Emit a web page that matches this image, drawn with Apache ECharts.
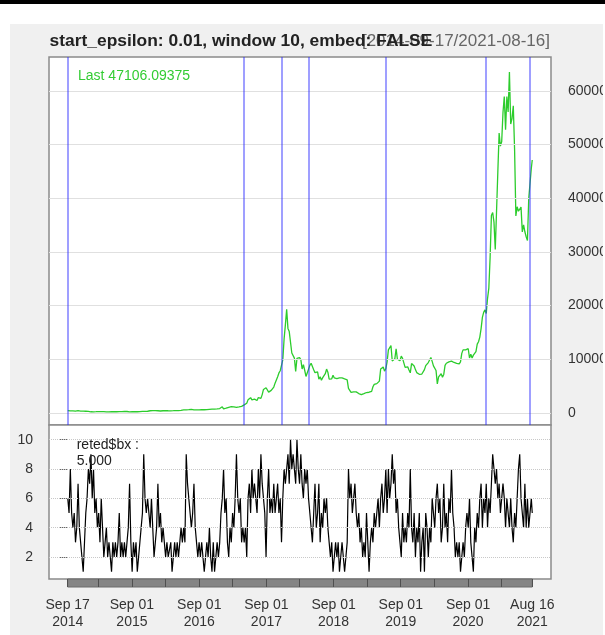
<!DOCTYPE html>
<html><head><meta charset="utf-8">
<script src="https://cdn.jsdelivr.net/npm/echarts@6/dist/echarts.min.js"></script>
<style>
html,body{margin:0;padding:0;background:#fff;width:605px;height:635px;overflow:hidden;}
#topbar{position:absolute;left:0;top:0;width:605px;height:4px;background:#000;}
#chart{position:absolute;left:10px;top:24px;width:593px;height:611px;background:#f0f0f0;}
</style></head><body>
<div id="topbar"></div><div id="chart"></div>
<script>
// ---- data (day index counted from 2014-09-17) ----
const titleText = 'start_epsilon: 0.01, window 10, embed: FALSE';
const rangeText = '[2014-09-17/2021-08-16]';
const xLabelDays = [0, 349, 715, 1080, 1445, 1810, 2176, 2525];
const xLabelText = ['Sep 17\n2014', 'Sep 01\n2015', 'Sep 01\n2016', 'Sep 01\n2017', 'Sep 01\n2018', 'Sep 01\n2019', 'Sep 01\n2020', 'Aug 16\n2021'];
const xTickDays = [0, 165, 349, 531, 715, 896, 1080, 1261, 1445, 1626, 1810, 1992, 2176, 2357, 2525];
const priceTicks = [0, 10000, 20000, 30000, 40000, 50000, 60000];
const bxTicks = [2, 4, 6, 8, 10];
const vlineDays = [0, 958, 1165, 1311, 1730, 2270, 2512];
const weekStep = 7;
const lastDay = 2525;
const lastPrice = 47106.09375;
const lastBx = 5;
const priceWeekly = [
 457,423,383,352,394,383,335,339,423,380,
 367,375,346,319,322,320,294,178,228,233,
 227,219,244,237,272,296,256,247,247,245,
 220,235,226,229,236,234,237,225,229,249,
 241,258,270,285,277,289,281,267,226,225,
 228,238,229,231,236,243,253,267,304,403,
 305,323,328,361,417,453,442,426,431,430,
 421,395,369,381,422,424,422,412,415,418,
 413,421,425,442,447,446,455,453,473,537,
 581,691,597,640,611,661,665,654,566,592,
 574,580,573,614,608,596,605,612,637,631,
 678,732,711,746,740,742,768,779,830,975,
 1155,778,871,895,986,1054,1009,1172,1222,1150,
 1244,1041,1040,1135,1211,1231,1317,1508,1756,1803,
 2447,2303,2859,2448,2674,2585,2619,2330,2872,2560,
 2725,3427,4385,4319,4703,4598,3882,3906,4208,4225,
 4829,5560,5904,6737,7459,7871,8232,9879,13750,16408,
 19300,15752,15156,14973,11180,11296,10221,7754,10167,10397,
 10326,9951,8195,8991,7960,6813,6955,8163,8864,9243,
 9325,8071,7505,7495,7654,6309,6734,6107,6593,6330,
 7315,8170,7606,6306,6275,6366,7037,6531,6316,6399,
 6490,6548,6564,6522,6491,6339,6467,6177,4582,4274,
 3830,3487,3950,3790,3931,4003,3617,3575,3437,3399,
 3617,3983,3813,3862,3866,4049,4025,4880,5319,5237,
 5465,5351,5940,8195,7880,8575,7797,8231,9525,11750,
 11961,12567,9682,9840,10087,11960,10016,10131,9717,10578,
 10159,10168,8490,8341,8596,8000,7480,9204,9342,8757,
 8080,7523,7192,7202,7125,7255,7200,8079,8813,8660,
 9392,9755,10326,9608,8785,8755,7923,5414,6734,6640,
 7302,6640,7189,8868,9269,9269,9522,9205,9666,9870,
 9410,9282,9232,9432,9132,9519,11100,11759,11584,11766,
 11479,11970,10241,10950,10230,10778,10602,11426,12823,13271,
 14133,15701,17804,18732,19205,18541,21310,23241,28949,36770,
 37316,35548,30433,37618,44918,52149,49705,50538,55963,58913,
 52774,58918,56048,63503,53800,54822,57191,49150,36700,38404,
 37575,37345,38347,33723,35041,33746,32823,32110,39995,39747,45585
];
const bxWeekly = [
 6,5,8,5,4,5,3,4,7,4,
 3,2,1,3,5,6,8,7,9,6,
 8,5,6,4,5,3,6,4,2,3,
 4,2,3,2,1,3,2,3,2,3,
 5,2,3,2,3,2,3,4,7,3,
 1,3,2,3,1,2,3,4,5,9,
 6,5,6,5,4,6,4,2,3,4,
 7,4,5,3,4,3,2,3,2,2,
 3,1,2,3,2,3,2,3,4,3,
 4,3,9,7,6,5,4,5,7,4,
 3,2,3,2,3,2,1,2,3,2,
 4,2,1,3,1,2,3,2,3,5,
 6,8,5,6,3,2,4,3,5,4,
 6,9,6,5,6,3,4,3,4,2,
 6,7,5,8,6,7,6,5,8,6,
 9,7,6,5,2,6,8,5,6,5,
 7,5,6,7,5,6,3,6,8,7,
 8,9,7,10,8,9,8,7,10,8,
 7,9,7,6,8,7,8,6,5,4,
 3,5,7,4,5,7,3,5,4,6,
 5,6,4,3,2,3,1,2,3,2,
 3,1,2,3,2,1,2,3,8,6,
 7,5,6,7,5,4,5,3,4,2,
 3,2,5,3,1,3,4,3,5,4,
 5,6,4,6,7,5,6,8,5,8,
 6,7,9,7,8,5,6,4,3,2,
 5,3,4,3,5,4,8,4,3,5,
 2,4,3,5,1,3,4,1,5,4,
 2,4,3,6,5,4,6,7,5,6,
 3,4,7,4,5,3,6,5,8,5,
 4,2,3,2,3,1,2,3,2,4,
 5,4,6,3,2,1,4,3,5,4,
 6,7,4,6,5,7,4,6,5,7,
 9,8,7,8,6,7,5,6,7,6,
 4,6,5,4,6,4,3,5,4,6,
 8,9,6,5,4,7,4,6,4,5,6
];

// ---- build ----
const OX = 10, OY = 24;
const FONT = '"Liberation Sans", Arial, sans-serif';
const xMin = -102, xMax = 2627;
const priceData = priceWeekly.map((v, i) => [i * weekStep, v]).concat([[lastDay, lastPrice]]);
const bxData = bxWeekly.map((v, i) => [i * weekStep, v]).concat([[lastDay, lastBx]]);
const labelMap = {};
xLabelDays.forEach((d, i) => { labelMap[d] = xLabelText[i]; });

const chart = echarts.init(document.getElementById('chart'), null, {renderer: 'canvas'});
chart.setOption({
  animation: false,
  backgroundColor: '#f0f0f0',
  grid: [
    {left: 49 - OX, top: 57 - OY, width: 502, height: 368, show: true, backgroundColor: '#fff', borderColor: '#8a8a8a', borderWidth: 1.5, containLabel: false, outerBoundsMode: 'none'},
    {left: 49 - OX, top: 425 - OY, width: 502, height: 154, show: true, backgroundColor: '#fff', borderColor: '#8a8a8a', borderWidth: 1.5, containLabel: false, outerBoundsMode: 'none'},
    {left: 67.7 - OX, top: 579 - OY, width: 464.6, height: 8, show: true, backgroundColor: '#858585', borderColor: '#6a6a6a', borderWidth: 1, containLabel: false, outerBoundsMode: 'none'}
  ],
  xAxis: [
    {gridIndex: 0, type: 'value', min: xMin, max: xMax, show: false},
    {gridIndex: 1, type: 'value', min: xMin, max: xMax, show: false},
    {gridIndex: 2, type: 'value', min: 0, max: lastDay, position: 'bottom',
      axisLine: {show: false, onZero: false}, splitLine: {show: false},
      axisTick: {show: true, customValues: xTickDays, inside: true, length: 8, lineStyle: {color: '#505050', width: 1}},
      axisLabel: {customValues: xLabelDays, formatter: v => labelMap[v] || '', margin: 10, fontSize: 14, lineHeight: 17, color: '#333', fontFamily: FONT}}
  ],
  yAxis: [
    {gridIndex: 0, type: 'value', position: 'right', min: -2235, max: 66294,
      axisLine: {show: false}, splitLine: {show: false},
      axisTick: {show: true, customValues: priceTicks, length: 8, lineStyle: {color: '#666'}},
      axisLabel: {customValues: priceTicks, formatter: v => String(v), margin: 17, fontSize: 14, color: '#333', fontFamily: FONT}},
    {gridIndex: 1, type: 'value', position: 'left', min: 0.5, max: 11,
      axisLine: {show: false}, splitLine: {show: false},
      axisTick: {show: true, customValues: bxTicks, length: 8, lineStyle: {color: '#666'}},
      axisLabel: {customValues: bxTicks, formatter: v => String(v), margin: 16, fontSize: 14, color: '#333', fontFamily: FONT}},
    {gridIndex: 2, type: 'value', min: 0, max: 1, show: false}
  ],
  series: [
    {type: 'line', xAxisIndex: 0, yAxisIndex: 0, data: [], silent: true, z: 1,
      markLine: {silent: true, symbol: 'none', label: {show: false},
        lineStyle: {color: '#e0e0e0', width: 1, type: 'solid'},
        data: priceTicks.map(v => ({yAxis: v}))}},
    {type: 'line', xAxisIndex: 0, yAxisIndex: 0, data: priceData, showSymbol: false, z: 3,
      lineStyle: {color: '#2ccc2c', width: 1.3}},
    {type: 'line', xAxisIndex: 0, yAxisIndex: 0, data: [], silent: true, z: 4,
      markLine: {silent: true, symbol: 'none', label: {show: false},
        lineStyle: {color: 'rgba(40,40,255,0.6)', width: 1.5, type: 'solid'},
        data: vlineDays.map(d => ({xAxis: d}))}},
    {type: 'line', xAxisIndex: 1, yAxisIndex: 1, data: [], silent: true, z: 1,
      markLine: {silent: true, symbol: 'none', label: {show: false},
        lineStyle: {color: '#c8c8c8', width: 1, type: 'dotted'},
        data: bxTicks.map(v => ({yAxis: v}))}},
    {type: 'line', xAxisIndex: 1, yAxisIndex: 1, data: bxData, showSymbol: false, z: 3,
      lineStyle: {color: '#000', width: 1.2}}
  ],
  graphic: [
    {type: 'text', x: 550 - OX, y: 41 - OY, z: 10,
      style: {text: rangeText, font: '17px ' + FONT, fill: '#666', align: 'right', verticalAlign: 'middle'}},
    {type: 'text', x: 49.6 - OX, y: 41 - OY, z: 11,
      style: {text: titleText, font: 'bold 17.4px ' + FONT, fill: '#222', align: 'left', verticalAlign: 'middle'}},
    {type: 'text', x: 78 - OX, y: 76.5 - OY, z: 11,
      style: {text: 'Last ' + lastPrice, font: '14px ' + FONT, fill: '#33cc33', align: 'left', verticalAlign: 'middle'}},
    {type: 'text', x: 76.7 - OX, y: 444.7 - OY, z: 11,
      style: {text: 'reted$bx :', font: '14px ' + FONT, fill: '#222', align: 'left', verticalAlign: 'middle'}},
    {type: 'text', x: 76.7 - OX, y: 461 - OY, z: 11,
      style: {text: lastBx.toFixed(3), font: '14px ' + FONT, fill: '#222', align: 'left', verticalAlign: 'middle'}}
  ]
});
</script>
</body></html>
